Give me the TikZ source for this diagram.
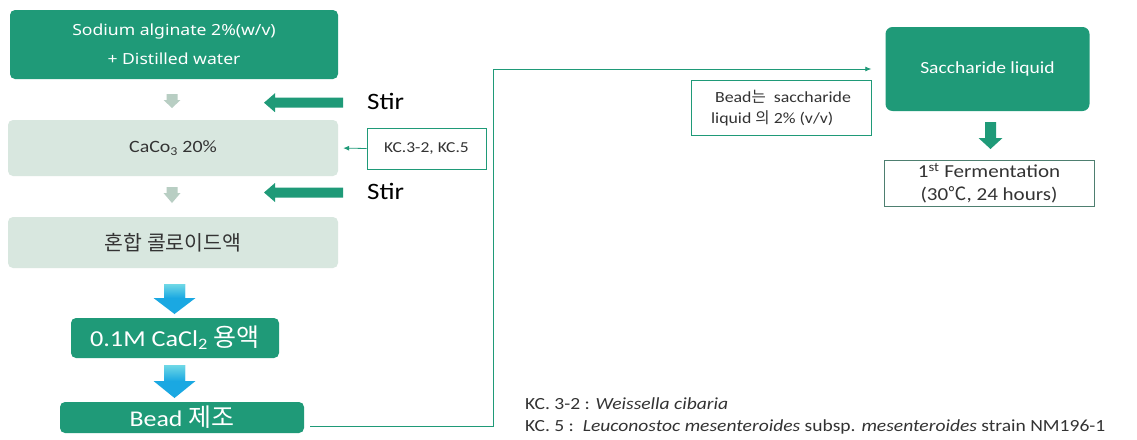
\documentclass[tikz,border=0pt]{standalone}
\usepackage{fontspec}
\setmainfont{Carlito}[FakeStretch=1.15]
\newfontfamily\wide{Noto Sans}[FakeStretch=1.15]
\newfontfamily\kr{Noto Sans CJK KR}
\usetikzlibrary{arrows.meta}
\definecolor{dg}{HTML}{1F9A78}
\definecolor{lg}{HTML}{D8E7DF}
\definecolor{ga}{HTML}{B8CEC3}
\definecolor{bl}{HTML}{1AA8E2}
\definecolor{blt}{HTML}{6FD8E6}
\definecolor{tx}{HTML}{333333}
\definecolor{bx}{HTML}{4E7F70}
\newcommand\fs[1]{\fontsize{#1}{#1}\selectfont}
% down block arrow: color, cx, top, shaft half, head half, head start, tip
\newcommand\blockdown[7]{\fill[#1] (#2-#4,#3) -- (#2+#4,#3) -- (#2+#4,#6) -- (#2+#5,#6) -- (#2,#7) -- (#2-#5,#6) -- (#2-#4,#6) -- cycle;}
% left block arrow: color, cy, right end, head base, tip, shaft half, head half
\newcommand\blockleft[7]{\fill[#1] (#3,#2-#6) -- (#3,#2+#6) -- (#4,#2+#6) -- (#4,#2+#7) -- (#5,#2) -- (#4,#2-#7) -- (#4,#2-#6) -- cycle;}
\begin{document}
\begin{tikzpicture}[x=1pt,y=-1pt,
  darkbox/.style={fill=dg, rounded corners=5pt, text=white, align=center, inner sep=0pt},
  lightbox/.style={fill=lg, rounded corners=5pt, text=tx, align=center, inner sep=0pt},
  thinbox/.style={draw=dg, line width=0.8pt, fill=white, text=tx, align=center, inner sep=0pt},
  conn/.style={draw=dg, line width=0.8pt, -{Latex[length=6pt,width=5pt]}},
  stirtext/.style={text=black, inner sep=0pt, font=\fs{23.5}},
  foot/.style={text=tx, inner sep=0pt, anchor=base west, font=\fs{17}}]
\useasboundingbox (0,0) rectangle (1137,439);
\fill[white] (0,0) rectangle (1137,439);

\node[darkbox, minimum width=328pt, minimum height=69pt, font=\wide\fs{15.3}] (sod) at (174,44.5)
  {Sodium alginate 2\%(w/v)\\[14pt]+ Distilled water};
\node[lightbox, minimum width=330pt, minimum height=56pt, font=\fs{17.3}] (caco) at (173,148)
  {CaCo\textsubscript{3} 20\%};
\node[lightbox, minimum width=330pt, minimum height=51pt, font=\kr\fs{20.5}] (mix) at (173,242.5)
  {혼합 콜로이드액};
\node[darkbox, minimum width=208pt, minimum height=40pt, font=\fs{22.8}] (cacl) at (175,338)
  {0.1M CaCl\textsubscript{2} {\kr\fs{25}용액}};
\node[darkbox, minimum width=244pt, minimum height=31pt, font=\fs{22.5}] (bead) at (182,417.5)
  {Bead {\kr\fs{25}제조}};

\node[stirtext, anchor=west] (stir1) at (367,101) {Stir};
\node[stirtext, anchor=west] (stir2) at (367,191) {Stir};

\node[thinbox, minimum width=119pt, minimum height=41pt, font=\fs{15.2}] (kc) at (426.5,148.5) {KC.3-2, KC.5};

\node[thinbox, minimum width=180pt, minimum height=55pt, font=\fs{15.5}, align=left] (note) at (781,108)
  {\ Bead{\kr 는} \ saccharide\\[6pt]liquid {\kr 의} 2\% (v/v)};
\node[darkbox, rounded corners=7pt, minimum width=204pt, minimum height=84pt, font=\fs{17}] (sacc) at (987.5,69)
  {Saccharide liquid};
\node[thinbox, draw=bx, minimum width=210pt, minimum height=46pt, font=\fs{18.3}] (ferm) at (989,183)
  {1\textsuperscript{st} Fermentation\\[4.5pt](30{\kr ℃}, 24 hours)};

\node[foot] (f1) at (525,409) {KC. 3-2 : \textit{Weissella cibaria}};
\node[foot] (f2) at (525,431) {KC. 5 :\ \ \textit{Leuconostoc mesenteroides} subsp. \textit{mesenteroides} strain NM196-1};

% block arrows
\blockdown{ga}{172}{94}{5.5}{8.5}{100}{108}
\blockdown{ga}{172}{187}{5.5}{8.5}{193}{203}
\blockleft{dg}{102.7}{343}{275}{264}{5}{9.5}
\blockleft{dg}{192.5}{343}{275}{264}{5}{9.5}
\blockdown{bl}{174.5}{284}{10.5}{21}{298}{314}
\shade[top color=blt, bottom color=bl] (164,284) rectangle (185,298);
\blockdown{bl}{174.5}{365}{10.5}{21}{381}{398}
\shade[top color=blt, bottom color=bl] (164,365) rectangle (185,381);
\blockdown{dg}{990.5}{122}{5.5}{12}{138}{149}

% connectors
\draw[conn, shorten >=5pt] (kc.west) -- (caco.east);
\coordinate (turn) at (493,69);
\draw[conn, shorten <=6pt, shorten >=14pt] ([yshift=-8.5pt]bead.east) -| (turn) -- (sacc.west);
\end{tikzpicture}
\end{document}
